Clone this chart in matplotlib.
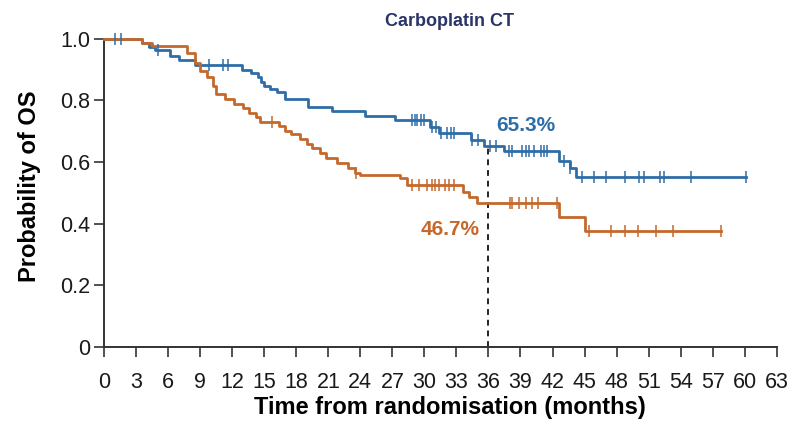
import numpy as np
import matplotlib
matplotlib.use("Agg")
import matplotlib.pyplot as plt

plt.rcParams['font.family'] = ['Liberation Sans', 'DejaVu Sans']

# Kaplan-Meier steps (time in months, survival after the event)
blue_t = [0, 3.5, 4.2, 4.8, 6.2, 7.0, 8.5, 12.9, 13.8, 14.4, 14.7, 15.0, 15.5, 16.2,
          16.9, 19.1, 21.3, 24.4, 27.2, 30.5, 31.4, 34.4, 35.6, 37.5, 42.6, 43.6, 44.2, 60.1]
blue_s = [1.0, 0.985, 0.975, 0.965, 0.945, 0.93, 0.915, 0.90, 0.89, 0.875, 0.859, 0.848,
          0.837, 0.826, 0.805, 0.778, 0.767, 0.751, 0.735, 0.713, 0.693, 0.670, 0.653,
          0.637, 0.605, 0.58, 0.553, 0.553]
blue_cens = [1.0, 1.6, 5.0, 9.8, 11.1, 11.6, 28.8, 29.1, 29.3, 29.7, 30.0, 30.7, 31.1,
             31.6, 32.1, 32.5, 32.8, 34.5, 35.0, 36.1, 36.7, 37.9, 38.2, 39.1, 39.5,
             39.8, 40.3, 40.9, 41.2, 41.5, 43.1, 43.6, 44.8, 45.9, 47.0, 48.8, 50.1,
             50.6, 52.1, 52.4, 55.0, 60.1]

orange_t = [0, 3.5, 4.5, 7.8, 8.5, 9.0, 9.6, 10.2, 10.5, 11.3, 12.2, 13.0, 13.6, 14.2,
            14.6, 16.4, 16.9, 17.5, 18.3, 19.0, 19.5, 20.2, 20.8, 21.8, 22.8, 23.5, 24.0,
            27.7, 28.4, 33.6, 34.2, 34.9, 42.6, 45.0, 57.8]
orange_s = [1.0, 0.985, 0.977, 0.955, 0.92, 0.896, 0.875, 0.848, 0.822, 0.806, 0.79,
            0.775, 0.76, 0.745, 0.73, 0.718, 0.70, 0.69, 0.676, 0.66, 0.645, 0.628, 0.612,
            0.597, 0.58, 0.566, 0.557, 0.547, 0.524, 0.503, 0.487, 0.467, 0.42, 0.376, 0.376]
orange_cens = [15.7, 23.6, 28.8, 29.5, 30.2, 30.7, 31.0, 31.4, 31.9, 32.3, 32.8, 38.0,
               38.2, 38.9, 39.5, 40.1, 40.6, 42.4, 45.4, 47.5, 48.8, 50.0, 51.7, 53.3, 57.8]

landmark = 36
blue_pct = 65.3
orange_pct = 46.7

x_ticks = list(range(0, 64, 3))
y_ticks = [0, 0.2, 0.4, 0.6, 0.8, 1.0]
y_labels = ['0', '0.2', '0.4', '0.6', '0.8', '1.0']

BLUE = '#2f6da6'
ORANGE = '#c5682c'

fig = plt.figure(figsize=(7.95, 4.22), dpi=100)
ax = fig.add_axes([0.131, 0.178, 0.846, 0.73])


def km(ax, t, s, cens, color):
    ax.step(t, s, where='post', color=color, lw=2.0, clip_on=False, zorder=3)
    idx = np.searchsorted(t, cens, side='right') - 1
    ys = np.array(s)[idx]
    ax.plot(cens, ys, ls='none', marker='|', ms=8, mew=1.1, color=color,
            clip_on=False, zorder=4)


km(ax, blue_t, blue_s, blue_cens, BLUE)
km(ax, orange_t, orange_s, orange_cens, ORANGE)

ax.plot([landmark, landmark], [0, blue_pct / 100], ls=(0, (3, 2.5)), color='#222222',
        lw=1.4, zorder=2)
ax.text(39.5, 0.718, f'{blue_pct}%', color=BLUE, fontsize=15, fontweight='bold',
        ha='center', va='center')
ax.text(32.4, 0.382, f'{orange_pct}%', color=ORANGE, fontsize=15, fontweight='bold',
        ha='center', va='center')

ax.set_xlim(0, 63)
ax.set_ylim(0, 1.0)
ax.set_xticks(x_ticks)
ax.set_yticks(y_ticks)
ax.set_yticklabels(y_labels)
ax.tick_params(direction='out', length=7, width=1.2, colors='#333333',
               labelcolor='#1a1a1a')
ax.tick_params(axis='x', labelsize=15.5, pad=11)
ax.tick_params(axis='y', labelsize=15.5, pad=3)
for side in ['top', 'right']:
    ax.spines[side].set_visible(False)
for side in ['left', 'bottom']:
    ax.spines[side].set_linewidth(1.4)
    ax.spines[side].set_color('#333333')

ax.set_xlabel('Time from randomisation (months)', fontsize=17, fontweight='bold',
              labelpad=2, x=0.514)
ax.set_ylabel('Probability of OS', fontsize=17, fontweight='bold', labelpad=14,
              y=0.523)
fig.text(0.566, 0.948, 'Carboplatin CT', fontsize=13, fontweight='bold',
         color='#2b3468', ha='center', va='center')

fig.savefig('out.png', dpi=100)
